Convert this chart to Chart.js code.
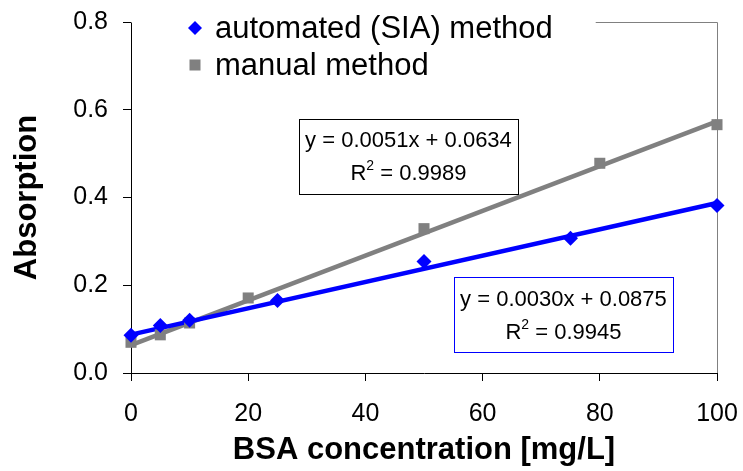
<!DOCTYPE html>
<html>
<head>
<meta charset="utf-8">
<script src="https://cdn.jsdelivr.net/npm/chart.js@4/dist/chart.umd.min.js"></script>
<style>
  html, body { margin: 0; padding: 0; background: #fff; }
  #wrap { width: 743px; height: 471px; }
</style>
</head>
<body>
<div id="wrap"><canvas id="c" width="743" height="471"></canvas></div>
<script>
// ---- data ----
const seriesNames = ['automated (SIA) method', 'manual method'];
const autoX = [0, 5, 10, 25, 50, 75, 100];
const autoY = [0.086, 0.108, 0.120, 0.165, 0.254, 0.307, 0.382];
const manualX = [0, 5, 10, 20, 50, 80, 100];
const manualY = [0.070, 0.087, 0.114, 0.171, 0.329, 0.478, 0.566];
// trend lines (from the equations shown on the chart)
const trendX = [0, 100];
const autoTrendY = [0.0875, 0.3875];
const manualTrendY = [0.0634, 0.5734];
const autoEq = ['y = 0.0030x + 0.0875', '0.9945'];
const manualEq = ['y = 0.0051x + 0.0634', '0.9989'];
const xTicks = [0, 20, 40, 60, 80, 100];
const yTicks = [0, 0.2, 0.4, 0.6, 0.8];
const xTitle = 'BSA concentration [mg/L]';
const yTitle = 'Absorption';

const BLUE = '#0000FF';
const GRAY = '#808080';
const FONT = '"Liberation Sans", Arial, Helvetica, sans-serif';

const pts = (xs, ys) => xs.map((x, i) => ({x: x, y: ys[i]}));

const extras = {
  id: 'extras',
  beforeDatasetsDraw(chart) {
    const {ctx, chartArea: a} = chart;
    ctx.save();
    ctx.strokeStyle = GRAY;
    ctx.lineWidth = 1;
    ctx.beginPath();
    ctx.moveTo(a.left, Math.round(a.top) + 0.5);
    ctx.lineTo(Math.round(a.right) + 0.5, Math.round(a.top) + 0.5);
    ctx.lineTo(Math.round(a.right) + 0.5, a.bottom);
    ctx.stroke();
    ctx.restore();
  },
  afterDatasetsDraw(chart) {
    const {ctx, chartArea: a, scales} = chart;
    const xs = scales.x, ys = scales.y;
    ctx.save();
    // legend (white background over the plot frame)
    const lx = a.left + 1, ly = 0;
    const lr = xs.getPixelForValue(79.3);
    ctx.fillStyle = '#fff';
    ctx.fillRect(lx, ly, lr - lx, 86);
    const mx = a.left + 64;
    const ty = [a.top + 6, a.top + 43];
    // diamond
    ctx.fillStyle = BLUE;
    ctx.beginPath();
    ctx.moveTo(mx, ty[0] - 7); ctx.lineTo(mx + 7, ty[0]); ctx.lineTo(mx, ty[0] + 7); ctx.lineTo(mx - 7, ty[0]);
    ctx.closePath(); ctx.fill();
    // square
    ctx.fillStyle = GRAY;
    ctx.fillRect(mx - 5.5, ty[1] - 5.5, 11, 11);
    ctx.fillStyle = '#000';
    ctx.font = '31px ' + FONT;
    ctx.textBaseline = 'middle';
    ctx.textAlign = 'left';
    ctx.fillText(seriesNames[0], mx + 20, ty[0] + 1);
    ctx.fillText(seriesNames[1], mx + 20, ty[1] + 1);

    // equation boxes
    function eqBox(x0, y0, x1, y1, color, lines) {
      const L = xs.getPixelForValue(x0), R = xs.getPixelForValue(x1);
      const T = ys.getPixelForValue(y0), B = ys.getPixelForValue(y1);
      ctx.fillStyle = '#fff';
      ctx.fillRect(L, T, R - L, B - T);
      ctx.strokeStyle = color;
      ctx.lineWidth = 1;
      ctx.strokeRect(Math.round(L) + 0.5, Math.round(T) + 0.5, Math.round(R - L), Math.round(B - T));
      const cx = (L + R) / 2;
      const h = B - T;
      ctx.fillStyle = '#000';
      ctx.textBaseline = 'middle';
      ctx.textAlign = 'center';
      ctx.font = '22px ' + FONT;
      ctx.fillText(lines[0], cx, T + h * 0.30);
      // R^2 line
      const big = '22px ' + FONT, small = '14px ' + FONT;
      ctx.font = big;
      const wR = ctx.measureText('R').width;
      const rest = ' = ' + lines[1];
      const wRest = ctx.measureText(rest).width;
      ctx.font = small;
      const w2 = ctx.measureText('2').width;
      const total = wR + w2 + wRest;
      let sx = cx - total / 2;
      const yy = T + h * 0.74;
      ctx.textAlign = 'left';
      ctx.font = big;
      ctx.fillText('R', sx, yy);
      ctx.font = small;
      ctx.fillText('2', sx + wR, yy - 8);
      ctx.font = big;
      ctx.fillText(rest, sx + wR + w2, yy);
    }
    eqBox(28.7, 0.580, 66.0, 0.408, '#000', manualEq);
    eqBox(55.1, 0.2177, 92.5, 0.0476, BLUE, autoEq);
    ctx.restore();
  }
};

new Chart(document.getElementById('c'), {
  type: 'scatter',
  data: {
    datasets: [
      { label: 'manual trend', data: pts(trendX, manualTrendY), type: 'line', borderColor: GRAY, borderWidth: 4.5, pointRadius: 0, fill: false, clip: false, order: 4 },
      { label: 'automated trend', data: pts(trendX, autoTrendY), type: 'line', borderColor: BLUE, borderWidth: 4.5, pointRadius: 0, fill: false, clip: false, order: 3 },
      { label: seriesNames[1], data: pts(manualX, manualY), pointStyle: 'rect', pointRadius: 7.8, backgroundColor: GRAY, borderColor: GRAY, borderWidth: 0, clip: false, order: 2 },
      { label: seriesNames[0], data: pts(autoX, autoY), pointStyle: 'rectRot', pointRadius: 7.5, backgroundColor: BLUE, borderColor: BLUE, borderWidth: 0, clip: false, order: 1 }
    ]
  },
  options: {
    responsive: false,
    animation: false,
    devicePixelRatio: 1,
    layout: { padding: { top: 22, right: 26, left: 0, bottom: 0 } },
    plugins: { legend: { display: false }, tooltip: { enabled: false } },
    scales: {
      x: {
        type: 'linear', min: 0, max: 100,
        afterBuildTicks: s => { s.ticks = xTicks.map(v => ({value: v})); },
        afterFit: s => { s.height = 98; s.paddingLeft = 0; s.paddingRight = 0; s.paddingTop = 0; s.paddingBottom = 0; },
        ticks: { color: '#000', font: { family: FONT, size: 25 }, padding: 18, maxRotation: 0 },
        grid: { drawOnChartArea: false, drawTicks: true, tickLength: 8, tickColor: '#000', tickWidth: 1 },
        border: { display: true, color: '#000', width: 1 },
        title: { display: true, text: xTitle, color: '#000', font: { family: FONT, size: 31, weight: 'bold' }, padding: { top: 0, bottom: 2 } }
      },
      y: {
        type: 'linear', min: 0, max: 0.8,
        afterBuildTicks: s => { s.ticks = yTicks.map(v => ({value: v})); },
        afterFit: s => { s.width = 131; s.paddingLeft = 0; s.paddingRight = 0; s.paddingTop = 0; s.paddingBottom = 0; },
        ticks: { color: '#000', font: { family: FONT, size: 25 }, padding: 15, callback: v => Number(v).toFixed(1) },
        grid: { drawOnChartArea: false, drawTicks: true, tickLength: 8, tickColor: '#000', tickWidth: 1 },
        border: { display: true, color: '#000', width: 1 },
        title: { display: true, text: yTitle, color: '#000', font: { family: FONT, size: 31, weight: 'bold' }, padding: { top: 9, bottom: 0 } }
      }
    }
  },
  plugins: [extras]
});
</script>
</body>
</html>
